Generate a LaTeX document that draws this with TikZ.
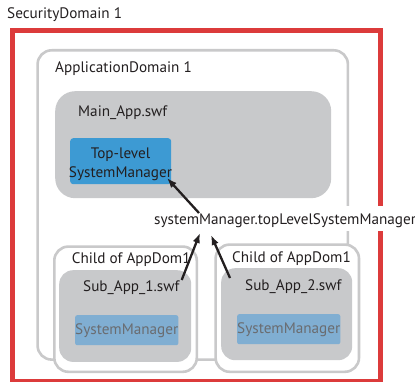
\documentclass[tikz,border=0pt]{standalone}
\usepackage{fontspec}
\setmainfont{PT Sans}
\usetikzlibrary{arrows.meta}
\definecolor{sdred}{HTML}{DC3B3B}
\definecolor{outl}{HTML}{C9C9CA}
\definecolor{swfgray}{HTML}{C8C9CB}
\definecolor{topblue}{HTML}{3D9AD3}
\definecolor{smblue}{HTML}{80AED2}
\definecolor{txt}{HTML}{231F20}
\definecolor{smtxt}{HTML}{6A6C70}
\begin{document}
\begin{tikzpicture}[x=1pt,y=-1pt,
  every node/.style={font=\fontsize{15.2}{18.7}\selectfont, text=txt},
  frame/.style={draw, anchor=north west, inner sep=0pt},
  secbox/.style={frame, draw=sdred, line width=5pt},
  dombox/.style={frame, draw=outl, line width=2.6pt, fill=white, rounded corners=14pt},
  swfbox/.style={frame, draw=none, fill=swfgray, rounded corners=#1},
  topbox/.style={frame, draw=none, fill=topblue, rounded corners=3pt},
  smbox/.style={frame, draw=none, fill=smblue, rounded corners=2pt, text=smtxt},
  lbl/.style={anchor=base west, inner sep=0pt},
  conn/.style={draw=txt, line width=2.3pt, -{Latex[length=10pt,width=7.5pt]}},
]
\useasboundingbox (0,0) rectangle (415,382);

% security domain
\node[secbox, minimum width=368.4pt, minimum height=351.5pt] (sec) at (9.8,27.8) {};
\node[lbl] (sectxt) at (7,18.3) {SecurityDomain 1};

% application domain
\node[dombox, minimum width=310.3pt, minimum height=309.3pt] (app) at (36.3,49) {};
\node[lbl] (apptxt) at (55,72.7) {ApplicationDomain 1};

% main app
\node[swfbox=20pt, minimum width=276pt, minimum height=107pt] (main) at (55,91) {};
\node[lbl] (maintxt) at (78,116.7) {Main\_App.swf};
\node[topbox, minimum width=101pt, minimum height=46pt] (top) at (70,138) {};
\node[align=center, inner sep=0pt] (toptxt) at (120.5,164) {Top-level\\SystemManager};

% child domains
\node[dombox, minimum width=142.5pt, minimum height=125.2pt] (c1) at (53,245.3) {};
\node[lbl] (c1txt) at (71.7,263) {Child of AppDom1};
\node[swfbox=14pt, minimum width=132pt, minimum height=91.7pt] (s1) at (59,270) {};
\node[lbl] (s1txt) at (83,291.7) {Sub\_App\_1.swf};
\node[smbox, minimum width=100pt, minimum height=30pt] (sm1) at (75,315) {SystemManager};

\node[dombox, minimum width=143.4pt, minimum height=127.2pt] (c2) at (214.3,243.3) {};
\node[lbl] (c2txt) at (232,262.7) {Child of AppDom1};
\node[swfbox=14pt, minimum width=131pt, minimum height=92pt] (s2) at (221,268) {};
\node[lbl] (s2txt) at (245,290) {Sub\_App\_2.swf};
\node[smbox, minimum width=100.7pt, minimum height=30pt] (sm2) at (237,314) {SystemManager};

% label
\node[anchor=base west, fill=white, inner xsep=2pt, inner ysep=0pt, text height=19pt, text depth=6pt] (ref) at (152,225) {systemManager.topLevelSystemManager};

% connectors
\coordinate (a1s) at (199,213);
\coordinate (a1e) at (167,178);
\coordinate (a2s) at (181.7,280);
\coordinate (a2e) at (200,233);
\coordinate (a3s) at (230,278);
\coordinate (a3e) at (211,235);
\draw[conn] (a1s) -- (a1e);
\draw[conn] (a2s) -- (a2e);
\draw[conn] (a3s) -- (a3e);
\end{tikzpicture}
\end{document}
